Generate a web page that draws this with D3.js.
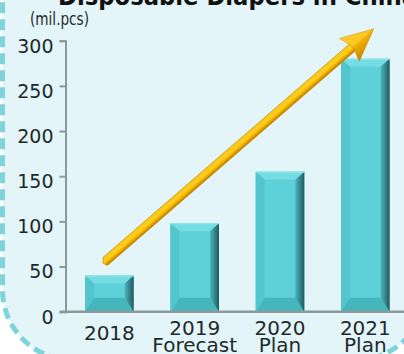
<!DOCTYPE html>
<html>
<head>
<meta charset="utf-8">
<script src="https://cdn.jsdelivr.net/npm/d3@7"></script>
<style>
  html, body { margin: 0; padding: 0; background: #fff; }
  svg { display: block; font-family: "DejaVu Sans", Verdana, sans-serif; }
</style>
</head>
<body>
<div id="chart"></div>
<script>
// chart data
let years = ['2018', '2019', '2020', '2021'];
let subLabels = ['', 'Forecast', 'Plan', 'Plan'];
let values = [40, 98, 155, 280];
let yTicks = [0, 50, 100, 150, 200, 250, 300];
// trend arrow, in data units (start / tip)
let arrowCats = ['2018', '2021'];
let arrowPos = [0.4, 0.67];
let arrowVals = [55, 313];

let w = 404;
let h = 354;

let svg = d3.select('#chart')
            .append('svg')
            .attr('width', w)
            .attr('height', h);

let defs = svg.append('defs');

let gRight = defs.append('linearGradient').attr('id', 'bevR').attr('x1', 0).attr('x2', 1).attr('y1', 0).attr('y2', 0);
gRight.append('stop').attr('offset', '0%').attr('stop-color', '#4ab6bd');
gRight.append('stop').attr('offset', '100%').attr('stop-color', '#1f5a5f');

let gShaft = defs.append('linearGradient').attr('id', 'shaft').attr('x1', 0).attr('x2', 0).attr('y1', 0).attr('y2', 1);
gShaft.append('stop').attr('offset', '0%').attr('stop-color', '#f6c21a');
gShaft.append('stop').attr('offset', '45%').attr('stop-color', '#ffd21c');
gShaft.append('stop').attr('offset', '70%').attr('stop-color', '#f2ad00');
gShaft.append('stop').attr('offset', '100%').attr('stop-color', '#b57a00');

let gHead = defs.append('linearGradient').attr('id', 'head').attr('x1', 0).attr('x2', 0).attr('y1', 0).attr('y2', 1);
gHead.append('stop').attr('offset', '0%').attr('stop-color', '#f9c51e');
gHead.append('stop').attr('offset', '50%').attr('stop-color', '#f5b300');
gHead.append('stop').attr('offset', '100%').attr('stop-color', '#c58500');

// rounded dashed panel
svg.append('rect')
   .attr('x', 2.5)
   .attr('y', -120)
   .attr('width', 423.5)
   .attr('height', 480)
   .attr('rx', 70)
   .attr('ry', 70)
   .attr('fill', '#e3f5f8')
   .attr('stroke', '#7fd4db')
   .attr('stroke-width', 5)
   .attr('stroke-dasharray', '11,6');

let yScale = d3.scaleLinear()
               .domain([0, 300])
               .range([311.7, 40.7]);
let xScale = d3.scaleBand()
               .domain(years)
               .range([66.7, 408])
               .paddingInner(0.43)
               .paddingOuter(0.215);

// title + unit
svg.append('text')
   .attr('x', 58)
   .attr('y', 5)
   .attr('textLength', 359)
   .attr('lengthAdjust', 'spacingAndGlyphs')
   .style('font-size', '25px')
   .style('font-weight', 'bold')
   .attr('fill', '#111')
   .text('Disposable Diapers in China');
svg.append('text')
   .attr('x', 30)
   .attr('y', 25)
   .attr('textLength', 59)
   .attr('lengthAdjust', 'spacingAndGlyphs')
   .style('font-size', '18px')
   .attr('fill', '#1e2a2a')
   .text('(mil.pcs)');

// bars with bevel
let bw = xScale.bandwidth();
let bars = svg.append('g').selectAll('g')
              .data(years)
              .enter()
              .append('g');

const poly = (pts) => 'M' + pts.map((p) => p.join(',')).join('L') + 'Z';

bars.each(function(d, i) {
  let g = d3.select(this);
  let x0 = xScale(d), x1 = x0 + bw;
  let y0 = yScale(values[i]), y1 = yScale(0);
  let bl = 9, br = 9, bt = 8, bb = 14;
  g.append('rect')
   .attr('x', x0).attr('y', y0)
   .attr('width', bw).attr('height', y1 - y0)
   .attr('fill', '#5ed0d7');
  g.append('path').attr('fill', '#74dde3')
   .attr('d', poly([[x0, y0], [x1, y0], [x1 - br, y0 + bt], [x0 + bl, y0 + bt]]));
  g.append('path').attr('fill', '#46b6bd')
   .attr('d', poly([[x0, y1], [x1, y1], [x1 - br, y1 - bb], [x0 + bl, y1 - bb]]));
  g.append('path').attr('fill', '#54c5cc')
   .attr('d', poly([[x0, y0], [x0 + bl, y0 + bt], [x0 + bl, y1 - bb], [x0, y1]]));
  g.append('path').attr('fill', 'url(#bevR)')
   .attr('d', poly([[x1, y0], [x1 - br, y0 + bt], [x1 - br, y1 - bb], [x1, y1]]));
  g.append('line')
   .attr('x1', x0).attr('x2', x1).attr('y1', y0 + 0.5).attr('y2', y0 + 0.5)
   .attr('stroke', '#8fe6ea').attr('stroke-width', 1);
});

// axes
let yAxis = d3.axisLeft(yScale).tickValues(yTicks).tickSize(6).tickPadding(6);
let ya = svg.append('g')
            .attr('transform', 'translate(65.5, 0)')
            .call(yAxis);
ya.selectAll('path, line').attr('stroke', '#8a9a9c').attr('stroke-width', 2);
ya.selectAll('text')
  .attr('dy', '0.6em')
  .attr('fill', '#1e2a2a')
  .style('font-size', '19px')
  .style('font-family', '"DejaVu Sans", sans-serif');

svg.append('line')
   .attr('x1', 60).attr('x2', w)
   .attr('y1', yScale(0)).attr('y2', yScale(0))
   .attr('stroke', '#8a9a9c')
   .attr('stroke-width', 2.5);

let xl = svg.append('g').selectAll('text')
            .data(years)
            .enter()
            .append('text')
            .attr('text-anchor', 'middle')
            .attr('fill', '#1e2a2a')
            .style('font-size', '20px')
            .attr('x', (d) => xScale(d) + bw / 2);
xl.each(function(d, i) {
  let t = d3.select(this);
  if (subLabels[i] === '') {
    t.attr('y', 340).text(d);
  } else {
    t.attr('y', 335);
    t.append('tspan').attr('x', xScale(d) + bw / 2).text(d);
    t.append('tspan').attr('x', xScale(d) + bw / 2).attr('dy', 17).text(subLabels[i]);
  }
});

// trend arrow
let ax0 = xScale(arrowCats[0]) + bw * arrowPos[0];
let ay0 = yScale(arrowVals[0]);
let ax1 = xScale(arrowCats[1]) + bw * arrowPos[1];
let ay1 = yScale(arrowVals[1]);
let len = Math.hypot(ax1 - ax0, ay1 - ay0);
let ang = Math.atan2(ay1 - ay0, ax1 - ax0) * 180 / Math.PI;
let headL = 32, headW = 15, shaftW = 4.5;

let arrow = svg.append('g')
               .attr('transform', 'translate(' + ax0 + ',' + ay0 + ') rotate(' + ang + ')');
arrow.append('path')
     .attr('d', poly([[2, -shaftW], [len - headL + 4, -shaftW], [len - headL + 4, shaftW], [0, shaftW], [-2, 0]]))
     .attr('fill', 'url(#shaft)')
     .attr('stroke', '#c98c00')
     .attr('stroke-width', 0.6);
arrow.append('path')
     .attr('d', poly([[len - headL, -headW], [len, 0], [len - headL, headW], [len - headL + 5, 0]]))
     .attr('fill', 'url(#head)')
     .attr('stroke', '#c98c00')
     .attr('stroke-width', 0.6);
arrow.append('path')
     .attr('d', poly([[len - headL, -headW], [len, 0], [len - headL + 5, 0]]))
     .attr('fill', '#ffd23a')
     .attr('opacity', 0.6);
</script>
</body>
</html>
